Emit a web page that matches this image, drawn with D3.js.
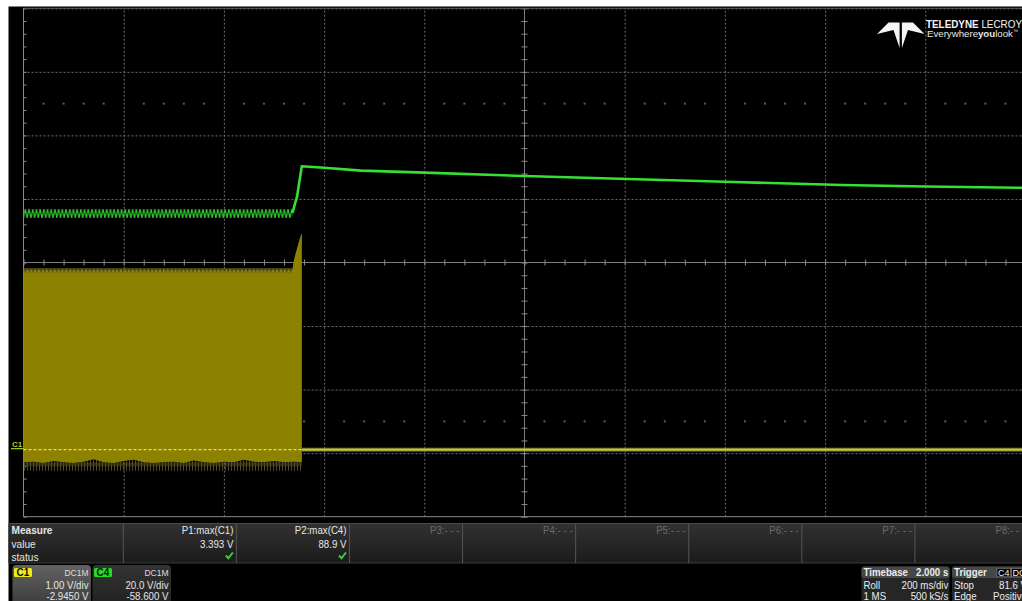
<!DOCTYPE html>
<html><head><meta charset="utf-8">
<script src="https://cdn.jsdelivr.net/npm/d3@7"></script>
<style>
html,body{margin:0;padding:0;background:#fff;overflow:hidden}
svg{display:block;font-family:"Liberation Sans",Arial,sans-serif}
</style></head><body>
<svg id="scope" width="1022" height="601"></svg>
<script>
const timebaseSec = [0, 2];            // 10 div x 200 ms/div, roll mode
const c1VoltsPerDiv = 1.0, c1Offset = -2.945;
const c4VoltsPerDiv = 20.0, c4Offset = -58.6;

// C4 (green): ripple band before the step, then the step and slow decay
const c4RippleTime = [0, 0.537];
const c4RippleHigh = [75.4, 75.4];
const c4RippleLow  = [72.6, 72.6];
const c4Time = [0.537, 0.541, 0.546, 0.5506, 0.5554, 0.6, 0.674, 0.8, 1.0, 1.154, 1.4, 1.634, 1.8, 2.0];
const c4Volt = [74.2, 76.6, 79.3, 84.0, 88.9, 88.4, 87.5, 86.9, 85.8, 85.1, 84.0, 83.0, 82.5, 82.1];

// C1 (yellow): dense burst (envelope) then flat at 0 V
const c1BurstTime = [0, 0.537, 0.5396, 0.545, 0.5496, 0.5544, 0.5556];
const c1BurstHigh = [2.85, 2.85, 2.98, 3.14, 3.27, 3.393, 3.393];
const c1TopTrough = 2.79;
const c1LowTime = [0, 0.02, 0.04, 0.06, 0.08, 0.10, 0.12, 0.14, 0.16, 0.18, 0.20, 0.22, 0.24, 0.26,
                   0.28, 0.30, 0.32, 0.34, 0.36, 0.38, 0.40, 0.42, 0.44, 0.46, 0.48, 0.50, 0.52, 0.54, 0.5556];
const c1LowVolt = [-0.20, -0.19, -0.21, -0.18, -0.20, -0.21, -0.19, -0.15, -0.20, -0.21, -0.18, -0.16, -0.20, -0.21,
                   -0.20, -0.19, -0.21, -0.17, -0.20, -0.21, -0.19, -0.20, -0.16, -0.19, -0.20, -0.18, -0.20, -0.19, -0.20];
const c1FringeVolt = -0.33;
const c1Time = [0.5556, 2.0];
const c1Volt = [0, 0];

// measurement table
const measureNames  = ["P1:max(C1)", "P2:max(C4)", "P3:- - -", "P4:- - -", "P5:- - -", "P6:- - -", "P7:- - -", "P8:- - -"];
const measureValues = ["3.393 V", "88.9 V", "", "", "", "", "", ""];
const measureOk     = [true, true, false, false, false, false, false, false];
const rowLabels = ["Measure", "value", "status"];

// channel descriptors
const channels = [
  {name: "C1", coupling: "DC1M", scale: "1.00 V/div", offset: "-2.9450 V"},
  {name: "C4", coupling: "DC1M", scale: "20.0 V/div", offset: "-58.600 V"}
];
const timebaseRows = [["Timebase", "2.000 s"], ["Roll", "200 ms/div"], ["1 MS", "500 kS/s"]];
const triggerRows  = [["Trigger", ""], ["Stop", "81.6 V"], ["Edge", "Positive"]];

// ---------------- drawing ----------------
const W = 1022, H = 601;
const svg = d3.select("#scope");
const defs = svg.append("defs");

// condensed UI text helper
function label(g, x, y, txt, o = {}) {
  const sx = o.sx || 0.88;
  return g.append("text")
    .attr("transform", `translate(${x},${y}) scale(${sx},1)`)
    .attr("text-anchor", o.anchor || "start")
    .attr("font-size", o.size || 11)
    .attr("font-weight", o.bold ? "bold" : "normal")
    .attr("fill", o.fill || "#e6e6e6")
    .text(txt);
}

svg.append("rect").attr("width", W).attr("height", H).attr("fill", "#fff");
svg.append("rect").attr("x", 8.5).attr("y", 6.5).attr("width", W - 8.5).attr("height", H - 6.5).attr("fill", "#000");

const gridLeft = 23.5, gridRight = 1025.5, gridTop = 8.3, gridBottom = 516.7;
const x = d3.scaleLinear().domain(timebaseSec).range([gridLeft, gridRight]);
const divX = d3.scaleLinear().domain([0, 10]).range([gridLeft, gridRight]);
const divY = d3.scaleLinear().domain([-4, 4]).range([gridBottom, gridTop]);
const c1Center = -c1Offset, c4Center = -c4Offset;
const y1 = d3.scaleLinear().domain([c1Center - 4 * c1VoltsPerDiv, c1Center + 4 * c1VoltsPerDiv]).range([gridBottom, gridTop]);
const y4 = d3.scaleLinear().domain([c4Center - 4 * c4VoltsPerDiv, c4Center + 4 * c4VoltsPerDiv]).range([gridBottom, gridTop]);
const cx = divX(5), cy = divY(0);

// grid (dotted) via axes
const gridG = svg.append("g");
gridG.append("g").attr("transform", `translate(0,${gridBottom})`)
  .call(d3.axisTop(divX).tickValues([1, 2, 3, 4, 6, 7, 8, 9]).tickSize(gridBottom - gridTop).tickFormat(""));
gridG.append("g").attr("transform", `translate(${gridLeft},0)`)
  .call(d3.axisRight(divY).tickValues([-3, -2, -1, 1, 2, 3, 4]).tickSize(W - gridLeft).tickFormat(""));
gridG.selectAll(".domain").remove();
gridG.selectAll("line").attr("stroke", "#6e6e6e").attr("stroke-dasharray", "2,2").attr("stroke-width", 1);

// minor dot rows at +-2.5 div
const minorX = d3.range(0, 10, 0.2).filter(v => Math.abs(v - Math.round(v)) > 0.01);
[-2.5, 2.5].forEach(r => {
  svg.append("g").selectAll("rect").data(minorX).join("rect")
    .attr("x", d => divX(d) - 1).attr("y", divY(r) - 1).attr("width", 2).attr("height", 2).attr("fill", "#5a5a5a");
});

// centre crosshair with ticks
svg.append("line").attr("x1", gridLeft).attr("x2", W).attr("y1", cy).attr("y2", cy).attr("stroke", "#7c7c7c");
svg.append("line").attr("x1", cx).attr("x2", cx).attr("y1", gridTop).attr("y2", gridBottom).attr("stroke", "#7c7c7c");
const tickG = svg.append("g");
tickG.append("g").attr("transform", `translate(0,${cy - 3})`)
  .call(d3.axisBottom(divX).tickValues(d3.range(0, 10.01, 0.2)).tickSize(6).tickFormat(""));
tickG.append("g").attr("transform", `translate(${cx - 3},0)`)
  .call(d3.axisRight(divY).tickValues(d3.range(-4, 4.01, 0.2)).tickSize(6).tickFormat(""));
tickG.append("g").attr("transform", `translate(${gridLeft},0)`)
  .call(d3.axisRight(divY).tickValues(d3.range(-4, 4.01, 0.2)).tickSize(3).tickFormat(""));
tickG.selectAll(".domain").remove();
tickG.selectAll("line").attr("stroke", "#8a8a8a");

// frame
svg.append("line").attr("x1", gridLeft).attr("x2", W).attr("y1", gridTop).attr("y2", gridTop).attr("stroke", "#5c5c5c");
svg.append("line").attr("x1", gridLeft).attr("x2", gridLeft).attr("y1", gridTop).attr("y2", gridBottom).attr("stroke", "#8a8a8a");
svg.append("line").attr("x1", gridLeft).attr("x2", W).attr("y1", gridBottom).attr("y2", gridBottom).attr("stroke", "#8a8a8a");

// ---- C1 trace ----
const yellowFill = "#8c8200";
const burstTop = c1BurstTime.map((t, i) => [x(t), y1(c1BurstHigh[i])]);
const burstLow = c1LowTime.map((t, i) => [x(t), y1(c1LowVolt[i])]);
// fringe below the burst
const hair = defs.append("pattern").attr("id", "hair").attr("patternUnits", "userSpaceOnUse")
  .attr("x", 0).attr("y", y1(-0.2)).attr("width", 3).attr("height", 9);
hair.append("line").attr("x1", 0.5).attr("x2", 0.5).attr("y1", 0).attr("y2", 9).attr("stroke", "#4f4b26").attr("stroke-width", 1);
hair.append("line").attr("x1", 2).attr("x2", 2).attr("y1", 0).attr("y2", 4).attr("stroke", "#6c672c").attr("stroke-width", 0.8);
const fringePts = burstLow.concat([[x(c1LowTime[c1LowTime.length - 1]), y1(c1FringeVolt)], [x(c1LowTime[0]), y1(c1FringeVolt)]]);
svg.append("path").attr("d", d3.line()(fringePts) + "Z").attr("fill", "url(#hair)");

const fillPts = burstTop.concat(burstLow.slice().reverse());
svg.append("path").attr("d", d3.line()(fillPts) + "Z").attr("fill", yellowFill);

// sawtooth top edge of the burst
const bandTop = y1(c1BurstHigh[0]), bandBottom = y1(c1TopTrough);
const saw = defs.append("pattern").attr("id", "saw").attr("patternUnits", "userSpaceOnUse")
  .attr("x", gridLeft).attr("y", bandTop).attr("width", 3.9).attr("height", bandBottom - bandTop);
saw.append("path").attr("d", `M0,0 L3.9,0 L1.95,${bandBottom - bandTop} Z`).attr("fill", "#3e3d33");
svg.append("rect").attr("x", x(c1BurstTime[0])).attr("y", bandTop)
  .attr("width", x(c1BurstTime[1]) - x(c1BurstTime[0])).attr("height", bandBottom - bandTop).attr("fill", "url(#saw)");

// ground reference inside the burst
svg.append("line").attr("x1", gridLeft).attr("x2", x(c1Time[0])).attr("y1", y1(0)).attr("y2", y1(0))
  .attr("stroke", "#e4e05a").attr("stroke-width", 1.4).attr("stroke-dasharray", "3,2");

// after the burst
const c1Line = d3.line().x((d, i) => x(c1Time[i])).y(d => y1(d));
svg.append("path").attr("d", c1Line(c1Volt)).attr("fill", "none").attr("stroke", "#6f6f2c").attr("stroke-width", 4.5).attr("opacity", 0.6);
svg.append("path").attr("d", c1Line(c1Volt)).attr("fill", "none").attr("stroke", "#c9c93e").attr("stroke-width", 2.4);

// C1 marker
svg.append("text").attr("x", 12).attr("y", y1(0) - 2.5).attr("font-size", 8).attr("font-weight", "bold")
  .attr("fill", "#a8cc2a").text("C1");
svg.append("line").attr("x1", 11).attr("x2", gridLeft).attr("y1", y1(0) - 1).attr("y2", y1(0) - 1).attr("stroke", "#a8cc2a").attr("stroke-width", 1.2);

// ---- C4 trace ----
const rTop = y4(c4RippleHigh[0]), rBot = y4(c4RippleLow[0]);
const zig = defs.append("pattern").attr("id", "zig").attr("patternUnits", "userSpaceOnUse")
  .attr("x", gridLeft).attr("y", rTop).attr("width", 3.7).attr("height", rBot - rTop);
zig.append("path").attr("d", `M0,${rBot - rTop} L1.85,0 L3.7,${rBot - rTop}`).attr("fill", "none")
  .attr("stroke", "#2fc62f").attr("stroke-width", 1.2);
const rippleArea = d3.area().x((d, i) => x(c4RippleTime[i])).y0((d, i) => y4(c4RippleLow[i])).y1(d => y4(d));
svg.append("path").attr("d", rippleArea(c4RippleHigh)).attr("fill", "url(#zig)");

const c4Line = d3.line().x((d, i) => x(c4Time[i])).y(d => y4(d));
svg.append("path").attr("d", c4Line(c4Volt)).attr("fill", "none").attr("stroke", "#34e034").attr("stroke-width", 2.6)
  .attr("stroke-linejoin", "round");

// ---- logo ----
const logo = svg.append("g");
logo.append("path").attr("d", "M877,34 L888.5,22.5 L899.6,22.5 L899.6,48 L893.5,30 Z").attr("fill", "#f4f4f4");
logo.append("path").attr("d", "M924.5,34 L913,22.5 L901.9,22.5 L901.9,48 L908,30 Z").attr("fill", "#f4f4f4");
const brand = logo.append("text").attr("x", 926).attr("y", 27.5).attr("font-size", 10.5)
  .attr("fill", "#f4f4f4").attr("textLength", 96).attr("lengthAdjust", "spacingAndGlyphs");
brand.append("tspan").attr("font-weight", "bold").text("TELEDYNE");
brand.append("tspan").text(" LECROY");
const tag = logo.append("text").attr("x", 927).attr("y", 36.5).attr("font-size", 9.5)
  .attr("fill", "#e8e8e8").attr("textLength", 91).attr("lengthAdjust", "spacingAndGlyphs");
tag.append("tspan").text("Everywhere");
tag.append("tspan").attr("font-weight", "bold").text("you");
tag.append("tspan").text("look");
tag.append("tspan").attr("font-size", 5).attr("dy", -4).text("™");

// ---- measure panel ----
const panelGrad = defs.append("linearGradient").attr("id", "pg").attr("x1", 0).attr("x2", 0).attr("y1", 0).attr("y2", 1);
panelGrad.append("stop").attr("offset", 0).attr("stop-color", "#313131");
panelGrad.append("stop").attr("offset", 1).attr("stop-color", "#1b1b1b");
svg.append("rect").attr("x", 8.5).attr("y", 523.5).attr("width", W - 8.5).attr("height", 39.5).attr("fill", "url(#pg)");
svg.append("line").attr("x1", 8.5).attr("x2", W).attr("y1", 523.5).attr("y2", 523.5).attr("stroke", "#4a4a4a");
svg.append("line").attr("x1", 8.5).attr("x2", W).attr("y1", 563).attr("y2", 563).attr("stroke", "#3a3a3a");

const colX = d3.scaleLinear().domain([0, 8]).range([123.3, 1028]);
svg.append("g").selectAll("line").data(d3.range(0, 8)).join("line")
  .attr("x1", d => colX(d)).attr("x2", d => colX(d)).attr("y1", 524).attr("y2", 563)
  .attr("stroke", "#555").attr("stroke-width", 1);

const rowY = [534, 547.7, 560.7];
const mG = svg.append("g");
rowLabels.forEach((d, i) => label(mG, 11.5, rowY[i], d, {bold: i === 0, sx: 0.92}));
measureNames.forEach((d, i) => label(mG, colX(i + 1) - 3, rowY[0], d,
  {anchor: "end", fill: measureValues[i] ? "#e6e6e6" : "#6a6a6a"}));
measureValues.forEach((d, i) => { if (d) label(mG, colX(i + 1) - 3, rowY[1], d, {anchor: "end"}); });
mG.selectAll("path").data(measureOk.map((ok, i) => ok ? i : -1).filter(i => i >= 0)).join("path")
  .attr("d", i => { const r = colX(i + 1) - 3.5; return `M${r - 7},${555.5} L${r - 4.5},${558.3} L${r},${552.5}`; })
  .attr("fill", "none").attr("stroke", "#3ccf3c").attr("stroke-width", 2);

// ---- channel descriptors ----
const chGradA = defs.append("linearGradient").attr("id", "cga").attr("x1", 0).attr("x2", 0).attr("y1", 0).attr("y2", 1);
chGradA.append("stop").attr("offset", 0).attr("stop-color", "#626262");
chGradA.append("stop").attr("offset", 1).attr("stop-color", "#3c3c3c");
const chGradB = defs.append("linearGradient").attr("id", "cgb").attr("x1", 0).attr("x2", 0).attr("y1", 0).attr("y2", 1);
chGradB.append("stop").attr("offset", 0).attr("stop-color", "#333");
chGradB.append("stop").attr("offset", 1).attr("stop-color", "#222");
const chColors = ["#f0ee10", "#20e020"];
const chX = d3.scaleLinear().domain([0, 1]).range([12.5, 92.5]);
const chW = 78.5;
channels.forEach((c, i) => {
  const g = svg.append("g").attr("transform", `translate(${chX(i)},565)`);
  g.append("path").attr("d", `M0,40 L0,4 Q0,0 4,0 L${chW - 4},0 Q${chW},0 ${chW},4 L${chW},40 Z`)
    .attr("fill", i === 0 ? "url(#cga)" : "url(#cgb)");
  g.append("rect").attr("x", 1.5).attr("y", 3).attr("width", 18).attr("height", 9).attr("rx", 1.5).attr("fill", chColors[i]);
  g.append("text").attr("x", 10.5).attr("y", 11).attr("text-anchor", "middle").attr("font-size", 10).attr("font-weight", "bold")
    .attr("fill", "#111").text(c.name);
  label(g, chW - 2.5, 10.5, c.coupling, {anchor: "end", size: 8.5, fill: "#ddd", sx: 1});
  label(g, chW - 2.5, 24, c.scale, {anchor: "end"});
  label(g, chW - 2.5, 35, c.offset, {anchor: "end"});
});

// ---- timebase & trigger ----
function infoBox(x0, w, rows, rightX) {
  const g = svg.append("g");
  g.append("rect").attr("x", x0).attr("y", 566.5).attr("width", w).attr("height", 40).attr("rx", 3).attr("fill", "#262626");
  g.append("rect").attr("x", x0).attr("y", 566.5).attr("width", w).attr("height", 11.5).attr("rx", 3).attr("fill", "#474747");
  const ys = [575.5, 588.5, 599.5];
  rows.forEach((r, i) => {
    label(g, x0 + 2, ys[i], r[0], {bold: i === 0, fill: "#ececec"});
    if (r[1]) label(g, rightX, ys[i], r[1], {anchor: "end", bold: i === 0, fill: "#ececec"});
  });
  return g;
}
infoBox(861.5, 88, timebaseRows, 948.3);
const tg = infoBox(952, 80, triggerRows, 1027);
tg.append("rect").attr("x", 997).attr("y", 568.3).attr("width", 13.5).attr("height", 8.5).attr("fill", "#000").attr("stroke", "#888").attr("stroke-width", 0.6);
label(tg, 1003.7, 575.8, "C4", {anchor: "middle", size: 9, fill: "#eee", sx: 1});
tg.append("rect").attr("x", 1011.5).attr("y", 568.3).attr("width", 13.5).attr("height", 8.5).attr("fill", "#000").attr("stroke", "#888").attr("stroke-width", 0.6);
label(tg, 1012.5, 575.8, "DC", {size: 9, fill: "#eee", sx: 1});
</script>
</body></html>
